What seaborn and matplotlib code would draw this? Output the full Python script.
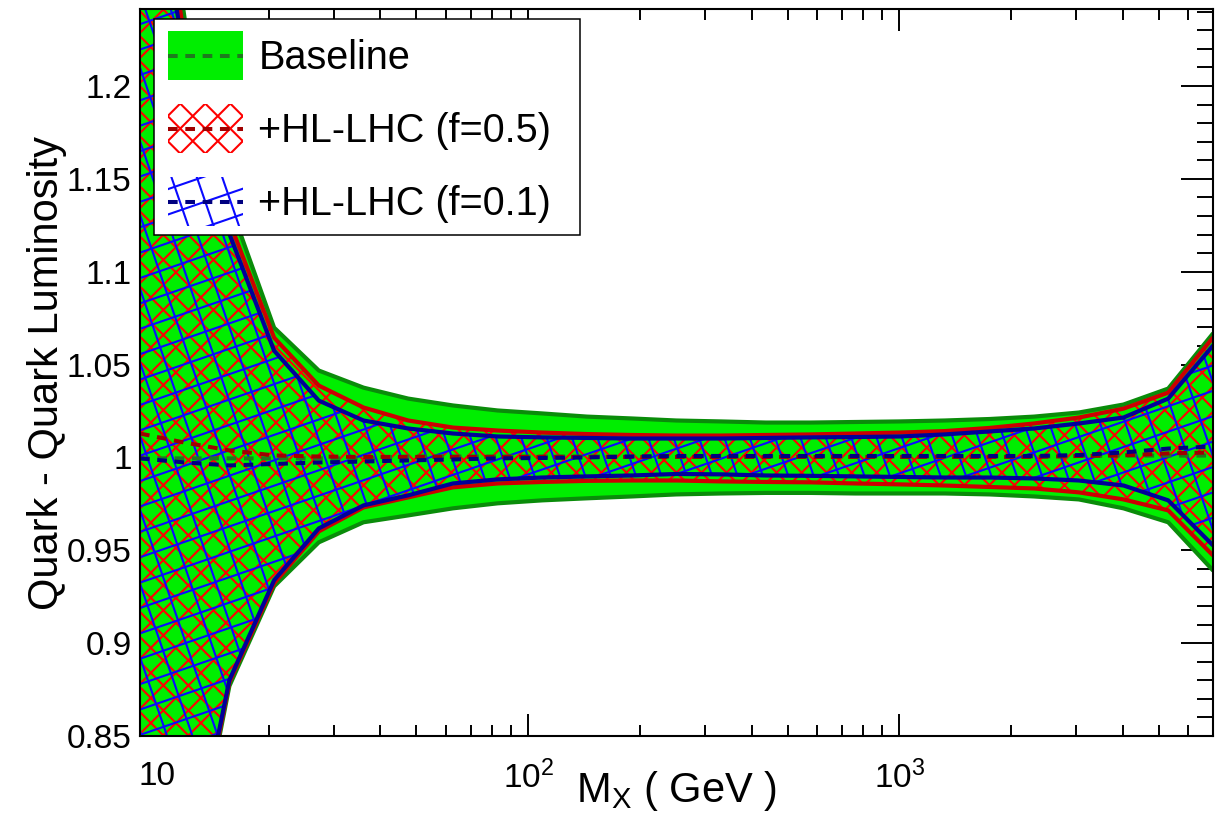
import numpy as np
import pandas as pd
import matplotlib
matplotlib.use("Agg")
import matplotlib.pyplot as plt
import seaborn as sns
from matplotlib.collections import LineCollection
from matplotlib.patches import Rectangle, Patch
from matplotlib.legend_handler import HandlerBase
from matplotlib.lines import Line2D
import matplotlib.ticker as mticker

# ---------------- data ----------------
mx = [9.0, 11.88, 15.67, 20.68, 27.29, 36.01, 47.52, 62.71, 82.76, 109.2,
      144.1, 190.2, 250.9, 331.1, 437.0, 576.6, 760.9, 1004.0, 1325.0, 1749.0,
      2307.0, 3045.0, 4018.0, 5302.0, 6996.0]

base_hi = [1.400, 1.236, 1.1371, 1.0699, 1.0468, 1.0376, 1.0317, 1.0280, 1.0253, 1.0237,
           1.0220, 1.0210, 1.0199, 1.0194, 1.0188, 1.0188, 1.0191, 1.0194, 1.0199, 1.0207,
           1.0220, 1.0242, 1.0285, 1.0371, 1.0667]
base_lo = [0.680, 0.755, 0.8769, 0.9306, 0.9543, 0.9651, 0.9688, 0.9726, 0.9753, 0.9769,
           0.9780, 0.9790, 0.9801, 0.9806, 0.9809, 0.9809, 0.9806, 0.9806, 0.9806, 0.9801,
           0.9790, 0.9774, 0.9726, 0.9651, 0.9392]
base_c = [0.9995, 0.9995, 0.9995, 0.9995, 0.9995, 0.9995, 1.0005, 1.0005, 1.0005, 1.0005,
          1.0005, 1.0005, 1.0005, 1.0005, 1.0005, 1.0005, 1.0005, 1.0005, 1.0005, 1.0005,
          1.0005, 1.0008, 1.0010, 1.0010, 1.0010]

f05_hi = [1.380, 1.225, 1.1269, 1.0645, 1.0387, 1.0269, 1.0199, 1.0161, 1.0145, 1.0134,
          1.0126, 1.0121, 1.0118, 1.0118, 1.0121, 1.0124, 1.0129, 1.0134, 1.0142, 1.0159,
          1.0183, 1.0215, 1.0263, 1.0349, 1.0645]
f05_lo = [0.690, 0.758, 0.8790, 0.9323, 0.9602, 0.9731, 0.9785, 0.9839, 0.9860, 0.9868,
          0.9874, 0.9876, 0.9876, 0.9871, 0.9868, 0.9866, 0.9860, 0.9855, 0.9849, 0.9841,
          0.9833, 0.9812, 0.9774, 0.9715, 0.9473]
f05_c = [1.0129, 1.0080, 1.0038, 1.0011, 1.0005, 1.0003, 1.0003, 1.0003, 1.0003, 1.0003,
         1.0003, 1.0003, 1.0003, 1.0003, 1.0003, 1.0003, 1.0003, 1.0003, 1.0003, 1.0003,
         1.0003, 1.0008, 1.0011, 1.0022, 1.0027]

f01_hi = [1.360, 1.215, 1.1204, 1.0575, 1.0306, 1.0199, 1.0156, 1.0129, 1.0113, 1.0108,
          1.0105, 1.0102, 1.0102, 1.0102, 1.0105, 1.0108, 1.0110, 1.0113, 1.0124, 1.0140,
          1.0156, 1.0183, 1.0215, 1.0317, 1.0602]
f01_lo = [0.700, 0.762, 0.8801, 0.9339, 0.9618, 0.9742, 0.9796, 0.9860, 0.9882, 0.9892,
          0.9898, 0.9903, 0.9911, 0.9909, 0.9903, 0.9901, 0.9898, 0.9895, 0.9892, 0.9892,
          0.9887, 0.9876, 0.9849, 0.9769, 0.9527]
f01_c = [0.9995, 0.9973, 0.9957, 0.9965, 0.9973, 0.9978, 0.9984, 0.9989, 0.9995, 0.9997,
         1.0000, 1.0005, 1.0008, 1.0008, 1.0008, 1.0008, 1.0008, 1.0008, 1.0008, 1.0008,
         1.0008, 1.0013, 1.0027, 1.0048, 1.0059]

series_labels = ["Baseline", "+HL-LHC (f=0.5)", "+HL-LHC (f=0.1)"]
y_ticks = [0.85, 0.9, 0.95, 1.0, 1.05, 1.1, 1.15, 1.2]
y_tick_labels = ["0.85", "0.9", "0.95", "1", "1.05", "1.1", "1.15", "1.2"]
x_ticks = [10, 100, 1000]
x_tick_labels = ["10", "$10^{2}$", "$10^{3}$"]
x_title = r"M$_{\mathrm{X}}$ ( GeV )"
y_title = "Quark - Quark Luminosity"

# ---------------- style ----------------
sns.set_theme(style="ticks")
plt.rcParams["font.family"] = ["Liberation Sans", "DejaVu Sans"]
plt.rcParams["mathtext.fontset"] = "custom"
plt.rcParams["mathtext.rm"] = "Liberation Sans"
plt.rcParams["mathtext.it"] = "Liberation Sans:italic"
plt.rcParams["mathtext.default"] = "regular"
plt.rcParams["axes.unicode_minus"] = False
plt.rcParams["text.color"] = "black"
plt.rcParams["axes.labelcolor"] = "black"
plt.rcParams["xtick.color"] = "black"
plt.rcParams["ytick.color"] = "black"

GREEN_FILL = "#00EE00"
GREEN_EDGE = "#0A8C0A"
GREEN_DASH = "#1E7A1E"
RED_HATCH = "#FF0000"
RED_EDGE = "#CC0000"
RED_DASH = "#A00000"
BLUE_HATCH = "#0A0AFF"
BLUE_EDGE = "#000099"
BLUE_DASH = "#000080"
DASH = (0, (2.4, 1.9))
EDGE_LW = 3.0
HATCH_LW = 1.5

DPI = 100
fig = plt.figure(figsize=(12.26, 8.18), dpi=DPI)
fig.patch.set_facecolor("white")
ax = fig.add_axes([140 / 1226, 82 / 818, 1073 / 1226, 727 / 818])
ax.set_xscale("log")
ax.set_xlim(9.0, 7000.0)
ax.set_ylim(0.85, 1.2415)

df = pd.DataFrame({"mx": mx,
                   "base_hi": base_hi, "base_lo": base_lo, "base_c": base_c,
                   "f05_hi": f05_hi, "f05_lo": f05_lo, "f05_c": f05_c,
                   "f01_hi": f01_hi, "f01_lo": f01_lo, "f01_c": f01_c})

def line(col, color, lw, ls="-", z=3):
    sns.lineplot(data=df, x="mx", y=col, ax=ax, color=color, lw=lw,
                 linestyle=ls, sort=False, estimator=None, zorder=z,
                 legend=False)

def grid_segments(x0, y0, w, h, spacing, angles, phase=0.0):
    segs = []
    cx, cy = x0 + w / 2, y0 + h / 2
    L = np.hypot(w, h)
    for ang in angles:
        th = np.deg2rad(ang)
        d = np.array([np.cos(th), np.sin(th)])
        n = np.array([-np.sin(th), np.cos(th)])
        nlines = int(L / spacing) + 2
        for k in range(-nlines, nlines + 1):
            c = np.array([cx, cy]) + n * (k + phase) * spacing
            segs.append([c - d * L, c + d * L])
    return segs

bb = ax.get_window_extent()

RED_ANGLES, RED_SP_PX = (45.0, -45.0), 17.7
BLUE_ANGLES, BLUE_SP_PX = (19.0, -71.0), 24.0

def hatch_band(poly, angles, spacing, color, z):
    segs = grid_segments(0, 0, bb.width, bb.height, spacing, angles)
    segs_ax = [[(p[0] / bb.width, p[1] / bb.height) for p in s] for s in segs]
    lc = LineCollection(segs_ax, colors=color, linewidths=HATCH_LW,
                        transform=ax.transAxes, zorder=z)
    ax.add_collection(lc, autolim=False)
    lc.set_clip_path(poly.get_paths()[0], ax.transData)

# Baseline band
ax.fill_between(df["mx"], df["base_lo"], df["base_hi"], facecolor=GREEN_FILL,
                edgecolor="none", lw=0, zorder=1)
line("base_hi", GREEN_EDGE, EDGE_LW, z=2)
line("base_lo", GREEN_EDGE, EDGE_LW, z=2)

# f=0.5 band: red cross hatch
poly05 = ax.fill_between(df["mx"], df["f05_lo"], df["f05_hi"], facecolor="none",
                         edgecolor="none", lw=0, zorder=3)
hatch_band(poly05, RED_ANGLES, RED_SP_PX, RED_HATCH, 3)
line("f05_hi", RED_EDGE, EDGE_LW, z=4)
line("f05_lo", RED_EDGE, EDGE_LW, z=4)

# f=0.1 band: blue rotated grid hatch
poly01 = ax.fill_between(df["mx"], df["f01_lo"], df["f01_hi"], facecolor="none",
                         edgecolor="none", lw=0, zorder=5)
hatch_band(poly01, BLUE_ANGLES, BLUE_SP_PX, BLUE_HATCH, 5)
line("f01_hi", BLUE_EDGE, EDGE_LW, z=6)
line("f01_lo", BLUE_EDGE, EDGE_LW, z=6)

# central dashed lines
line("base_c", GREEN_DASH, 2.9, DASH, z=7)
line("f05_c", RED_DASH, 2.9, DASH, z=7)
line("f01_c", BLUE_DASH, 2.9, DASH, z=7)

# ---------------- axes ----------------
ax.xaxis.set_major_locator(mticker.FixedLocator(x_ticks))
ax.xaxis.set_major_formatter(mticker.FixedFormatter(x_tick_labels))
ax.xaxis.set_minor_locator(mticker.LogLocator(base=10, subs=np.arange(2, 10), numticks=20))
ax.xaxis.set_minor_formatter(mticker.NullFormatter())
ax.yaxis.set_major_locator(mticker.FixedLocator(y_ticks))
ax.yaxis.set_major_formatter(mticker.FixedFormatter(y_tick_labels))
ax.yaxis.set_minor_locator(mticker.MultipleLocator(0.01))

ax.tick_params(which="both", direction="in", top=True, right=True,
               colors="black", width=1.4)
ax.tick_params(axis="x", which="major", length=15.8, labelsize=24, pad=18)
ax.tick_params(axis="x", which="minor", length=7.9)
ax.tick_params(axis="y", which="major", length=23, labelsize=24, pad=6)
ax.tick_params(axis="y", which="minor", length=11.5)
for sp in ax.spines.values():
    sp.set_linewidth(1.5)
    sp.set_color("black")
    sp.set_zorder(20)
ax.grid(False)

ax.set_xlabel(x_title, fontsize=30, color="black")
ax.set_ylabel(y_title, fontsize=30, color="black")
ax.xaxis.set_label_coords(0.5, -0.046)
ax.yaxis.set_label_coords(-0.068, 0.5)

# ---------------- legend ----------------
class BandHandler(HandlerBase):
    def __init__(self, face="none", angles=None, spacing=None, gridcolor=None,
                 dashcolor="k"):
        super().__init__()
        self.face, self.angles, self.spacing = face, angles, spacing
        self.gridcolor, self.dashcolor = gridcolor, dashcolor

    def create_artists(self, legend, orig_handle, xdescent, ydescent, width,
                       height, fontsize, trans):
        x0, y0 = -xdescent, -ydescent
        arts = []
        rect = Rectangle((x0, y0), width, height, facecolor=self.face,
                         edgecolor="none", lw=0, transform=trans)
        arts.append(rect)
        if self.angles is not None:
            sp = self.spacing * 72.0 / DPI
            s = grid_segments(x0, y0, width, height, sp, self.angles)
            glc = LineCollection(s, colors=self.gridcolor, linewidths=HATCH_LW,
                                 transform=trans)
            glc.set_clip_path(rect)
            arts.append(glc)
        ln = Line2D([x0, x0 + width], [y0 + height / 2] * 2, color=self.dashcolor,
                    lw=2.9, linestyle=DASH, transform=trans)
        arts.append(ln)
        return arts

h_base, h_05, h_01 = Patch(), Patch(), Patch()
hmap = {h_base: BandHandler(face=GREEN_FILL, dashcolor=GREEN_DASH),
        h_05: BandHandler(angles=RED_ANGLES, spacing=RED_SP_PX,
                          gridcolor=RED_HATCH, dashcolor=RED_DASH),
        h_01: BandHandler(angles=BLUE_ANGLES, spacing=BLUE_SP_PX,
                          gridcolor=BLUE_HATCH, dashcolor=BLUE_DASH)}

# legend frame (white box with black border)
frame = Rectangle((154 / 1226, 1 - 235 / 818), 426 / 1226, 216 / 818,
                  transform=fig.transFigure, facecolor="white",
                  edgecolor="black", lw=1.1, zorder=2)
fig.add_artist(frame)

leg = fig.legend([h_base, h_05, h_01], series_labels, handler_map=hmap,
                 loc="upper left", bbox_to_anchor=(154 / 1226, 1 - 17 / 818),
                 bbox_transform=fig.transFigure, borderaxespad=0,
                 fontsize=28.5, handlelength=1.89, handleheight=1.54,
                 handletextpad=0.4, labelspacing=0.6, borderpad=0.35,
                 frameon=False)
for t in leg.get_texts():
    t.set_color("black")
leg.set_zorder(3)

fig.savefig("out.png", dpi=DPI, facecolor="white")
